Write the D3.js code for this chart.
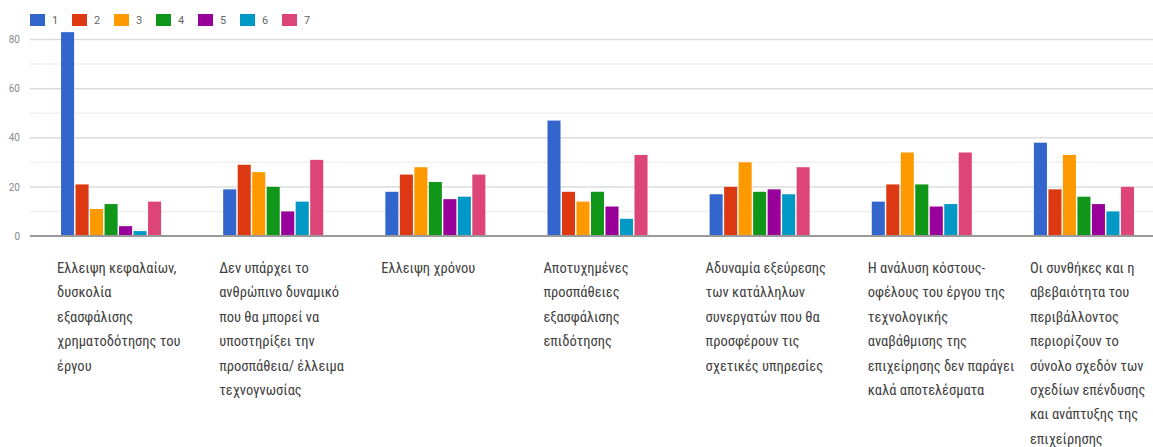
<!DOCTYPE html>
<html>
<head>
<meta charset="utf-8">
<script src="https://cdn.jsdelivr.net/npm/d3@7"></script>
<style>
  html, body { margin: 0; padding: 0; background: #fff; }
  svg { display: block; }
</style>
</head>
<body>
<svg id="chart" width="1153" height="447"></svg>
<script>
// Category labels (line breaks as shown under each group)
const categories = [
  "Ελλειψη κεφαλαίων,\nδυσκολία\nεξασφάλισης\nχρηματοδότησης του\nέργου",
  "Δεν υπάρχει το\nανθρώπινο δυναμικό\nπου θα μπορεί να\nυποστηρίξει την\nπροσπάθεια/ έλλειμα\nτεχνογνωσίας",
  "Ελλειψη χρόνου",
  "Αποτυχημένες\nπροσπάθειες\nεξασφάλισης\nεπιδότησης",
  "Αδυναμία εξεύρεσης\nτων κατάλληλων\nσυνεργατών που θα\nπροσφέρουν τις\nσχετικές υπηρεσίες",
  "Η ανάλυση κόστους-\nοφέλους του έργου της\nτεχνολογικής\nαναβάθμισης της\nεπιχείρησης δεν παράγει\nκαλά αποτελέσματα",
  "Οι συνθήκες και η\nαβεβαιότητα του\nπεριβάλλοντος\nπεριορίζουν το\nσύνολο σχεδόν των\nσχεδίων επένδυσης\nκαι ανάπτυξης της\nεπιχείρησης"
];

// Rating scale 1..7 (legend entries)
const seriesNames = ["1", "2", "3", "4", "5", "6", "7"];

// Counts per rating, one array per rating, ordered like the categories
const rating1 = [83, 19, 18, 47, 17, 14, 38];
const rating2 = [21, 29, 25, 18, 20, 21, 19];
const rating3 = [11, 26, 28, 14, 30, 34, 33];
const rating4 = [13, 20, 22, 18, 18, 21, 16];
const rating5 = [4, 10, 15, 12, 19, 12, 13];
const rating6 = [2, 14, 16, 7, 17, 13, 10];
const rating7 = [14, 31, 25, 33, 28, 34, 20];
const seriesValues = [rating1, rating2, rating3, rating4, rating5, rating6, rating7];

const yTicks = [0, 20, 40, 60, 80];
const yGridMinor = [10, 30, 50, 70];

const colors = ["#3366cc", "#dc3912", "#ff9900", "#109618", "#990099", "#0099c6", "#dd4477"];

const svg = d3.select("#chart");
const W = 1153;

const x0 = d3.scaleBand()
  .domain(d3.range(categories.length))
  .range([30, 1165])
  .paddingInner(0.383)
  .paddingOuter(0.1915);

const x1 = d3.scaleBand()
  .domain(seriesNames)
  .range([0, x0.bandwidth()])
  .paddingInner(0.1);

const y = d3.scaleLinear().domain([0, 80]).range([236, 39.5]);

// Gridlines
svg.append("g").selectAll("line.minor")
  .data(yGridMinor).join("line")
  .attr("x1", 30).attr("x2", W)
  .attr("y1", d => y(d)).attr("y2", d => y(d))
  .attr("stroke", "#efefef").attr("stroke-width", 1.5);

svg.append("g").selectAll("line.major")
  .data(yTicks.filter(d => d > 0)).join("line")
  .attr("x1", 30).attr("x2", W)
  .attr("y1", d => y(d)).attr("y2", d => y(d))
  .attr("stroke", "#dcdcdc").attr("stroke-width", 1.5);

// Y axis labels
const yAxis = d3.axisLeft(y).tickValues(yTicks).tickSize(0).tickPadding(0);
const yg = svg.append("g").attr("transform", "translate(20,0)").call(yAxis);
yg.select(".domain").remove();
yg.selectAll("text")
  .attr("fill", "#8a8a8a")
  .style("font-family", "Roboto, 'Noto Sans', sans-serif")
  .style("font-size", "10px");

// Bars
const groups = svg.append("g").selectAll("g")
  .data(categories.map((c, i) => i)).join("g")
  .attr("transform", i => `translate(${x0(i)},0)`);

groups.selectAll("rect")
  .data(i => seriesNames.map((s, k) => ({ s, k, v: seriesValues[k][i] })))
  .join("rect")
  .attr("x", d => x1(d.s))
  .attr("width", x1.bandwidth())
  .attr("y", d => y(d.v))
  .attr("height", d => y(0) - y(d.v))
  .attr("fill", d => colors[d.k]);

// Baseline
svg.append("line")
  .attr("x1", 30).attr("x2", W)
  .attr("y1", y(0)).attr("y2", y(0))
  .attr("stroke", "#9a9a9a").attr("stroke-width", 2);

// Category labels
const labels = svg.append("g").selectAll("text")
  .data(categories.map((c, i) => ({ c, i }))).join("text")
  .attr("x", d => x0(d.i) - 4)
  .attr("y", 273)
  .attr("fill", "#404040")
  .style("font-family", "'Liberation Sans Narrow', 'Roboto Condensed', Roboto, sans-serif")
  .style("font-size", "14.5px");

labels.selectAll("tspan")
  .data(d => d.c.split("\n").map(t => ({ t, x: x0(d.i) - 4 })))
  .join("tspan")
  .attr("x", d => d.x)
  .attr("dy", (d, j) => j === 0 ? 0 : 24.4)
  .text(d => d.t);

// Legend
const legend = svg.append("g").selectAll("g")
  .data(seriesNames).join("g")
  .attr("transform", (d, k) => `translate(${30 + k * 42},14)`);

legend.append("rect")
  .attr("width", 15).attr("height", 12)
  .attr("fill", (d, k) => colors[k]);

legend.append("text")
  .attr("x", 22).attr("y", 10)
  .attr("fill", "#666")
  .style("font-family", "Roboto, 'Noto Sans', sans-serif")
  .style("font-size", "11px")
  .text(d => d);
</script>
</body>
</html>
